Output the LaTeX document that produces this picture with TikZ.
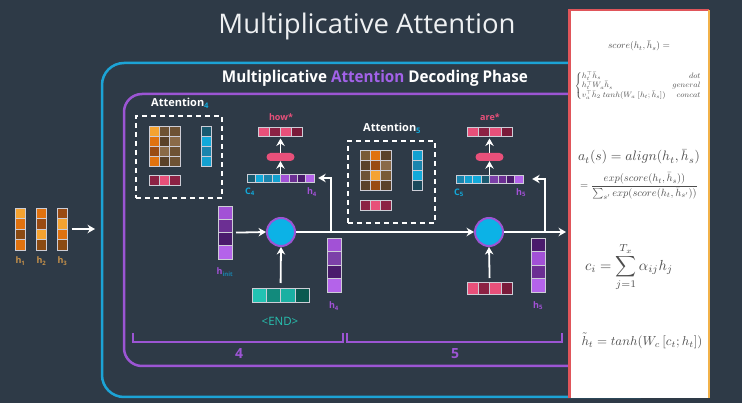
\documentclass[tikz,border=0pt]{standalone}
\usepackage[no-math]{fontspec}
\newfontfamily\osans{Open Sans}
\usepackage{graphicx}
\usetikzlibrary{arrows.meta}
\definecolor{bg}{HTML}{2E3A47}
\definecolor{blueframe}{HTML}{1CA3D6}
\definecolor{purpframe}{HTML}{9C55D4}
\definecolor{attnpurple}{HTML}{A262E8}
\definecolor{circfill}{HTML}{0CB2E6}
\definecolor{pinkA}{HTML}{E8507A}
\definecolor{pinkB}{HTML}{8C2244}
\definecolor{pinkC}{HTML}{7A1B3A}
\definecolor{or1}{HTML}{F5A331}
\definecolor{or2}{HTML}{E0720F}
\definecolor{or3}{HTML}{9A4B12}
\definecolor{or4}{HTML}{8A4A12}
\definecolor{br1}{HTML}{6E5234}
\definecolor{br2}{HTML}{5A4129}
\definecolor{br3}{HTML}{8A6A48}
\definecolor{br4}{HTML}{7A5A34}
\definecolor{cy1}{HTML}{1A5A70}
\definecolor{cy2}{HTML}{12A9DA}
\definecolor{cy3}{HTML}{1A84AD}
\definecolor{cy4}{HTML}{13A0D0}
\definecolor{cy5}{HTML}{1A4A5C}
\definecolor{pu1}{HTML}{A251D6}
\definecolor{pu2}{HTML}{6C2F93}
\definecolor{pu3}{HTML}{4A1B6C}
\definecolor{pu4}{HTML}{B463EA}
\definecolor{pu5}{HTML}{7C40A8}
\definecolor{te1}{HTML}{22C2B2}
\definecolor{te2}{HTML}{128A7C}
\definecolor{te3}{HTML}{1AB0A2}
\definecolor{te4}{HTML}{0B5A50}
\definecolor{cellln}{HTML}{CDCDD6}
\definecolor{tan}{HTML}{C8924A}
\definecolor{endteal}{HTML}{27C1B0}
\definecolor{panelred}{HTML}{E0555A}
\definecolor{panelorange}{HTML}{F2B24A}
\definecolor{formula}{HTML}{4D4D4D}
\definecolor{titlegray}{HTML}{EEF0F2}
% vertical vector: name, x, y, cell w, cell h, n, colours
\newcommand{\vcol}[7]{%
  \foreach \cc [count=\ii from 0] in {#7}{%
    \filldraw[fill=\cc,draw=cellln,line width=.8pt] (#2,{#3+\ii*#5}) rectangle ++(#4,#5);}%
  \node[inner sep=0pt,outer sep=0pt,minimum width=#4pt,minimum height=#6*#5pt,anchor=north west] (#1) at (#2,#3) {};%
}
% horizontal vector
\newcommand{\hrow}[7]{%
  \foreach \cc [count=\ii from 0] in {#7}{%
    \filldraw[fill=\cc,draw=cellln,line width=.8pt] ({#2+\ii*#4},#3) rectangle ++(#4,#5);}%
  \node[inner sep=0pt,outer sep=0pt,minimum width=#6*#4pt,minimum height=#5pt,anchor=north west] (#1) at (#2,#3) {};%
}
\begin{document}
\begin{tikzpicture}[x=1pt,y=-1pt,
  arr/.style={draw=white,line width=1.8pt,-{Stealth[length=7.5pt,width=8.5pt,inset=2.5pt]}},
  circ/.style={circle,minimum size=28pt,inner sep=0pt,fill=circfill,draw=purpframe,line width=2pt},
  pill/.style={rectangle,rounded corners=4pt,minimum width=28pt,minimum height=8pt,inner sep=0pt,fill=pinkA},
  dbox/.style={draw=white,line width=1.8pt,dash pattern=on 5pt off 4pt,inner sep=0pt,anchor=north west},
  attn/.style={font=\osans\bfseries\fontsize{11}{12}\selectfont,text=white,inner sep=0pt,anchor=west},
  small/.style={font=\osans\bfseries\fontsize{9}{10}\selectfont,inner sep=0pt},
  num/.style={font=\osans\bfseries\fontsize{14}{15}\selectfont,text=purpframe,inner sep=0pt},
  brk/.style={draw=purpframe,line width=2pt},
  fml/.style={text=formula,inner sep=0pt}]
\fill[bg] (0,0) rectangle (742,403);
\useasboundingbox (0,0) rectangle (742,403);

% titles
\node[anchor=base,inner sep=0pt,text=titlegray] (title) at (367,34)
  {\resizebox{297pt}{20.5pt}{\osans Multiplicative Attention}};

% frames
\draw[blueframe,line width=2.5pt,rounded corners=22pt] (102,63) rectangle (660,397);
\draw[purpframe,line width=2.5pt,rounded corners=18pt] (124,94) rectangle (660,366);
\node[anchor=base,inner sep=0pt,text=white] (subtitle) at (375,82.3)
  {\resizebox{306pt}{12.3pt}{\osans\bfseries Multiplicative {\color{attnpurple}Attention} Decoding Phase}};

% encoder states
\vcol{h1}{15}{208}{10.5}{10.5}{4}{or1,or2,or4,or2}
\vcol{h2}{36}{208}{10.5}{10.5}{4}{or2,or3,or1,or4}
\vcol{h3}{57}{208}{10.5}{10.5}{4}{or3,or1,or2,or4}
\node[small,text=tan] (h1l) at (20.5,261) {h\textsubscript{1}};
\node[small,text=tan] (h2l) at (41.5,261) {h\textsubscript{2}};
\node[small,text=tan] (h3l) at (62.5,261) {h\textsubscript{3}};
\coordinate (encin) at (95,229);
\draw[arr] ([xshift=4pt]h3.east) -- (encin);

% Attention 4
\node[attn] (at4) at (151,103) {Attention\textsubscript{\color{cy2}4}};
\node[dbox,minimum width=86pt,minimum height=82pt] (box4) at (135,115) {};
\vcol{m4a}{149}{126}{10.3}{10}{4}{or1,or2,or3,or2}
\vcol{m4b}{159.3}{126}{10.3}{10}{4}{br1,br2,br3,br2}
\vcol{m4c}{169.6}{126}{10.3}{10}{4}{br1,br3,br1,br1}
\vcol{e4}{201}{126}{10.5}{10}{4}{cy1,cy2,cy3,cy4}
\hrow{w4}{149}{175}{10.3}{10.5}{3}{pinkB,pinkA,pinkB}

% Attention 5
\node[attn] (at5) at (363,128) {Attention\textsubscript{\color{cy2}5}};
\node[dbox,minimum width=87pt,minimum height=82pt] (box5) at (347,140) {};
\vcol{m5a}{360}{150}{10.3}{10}{4}{br4,br2,br1,br2}
\vcol{m5b}{370.3}{150}{10.3}{10}{4}{or2,or3,or1,or3}
\vcol{m5c}{380.6}{150}{10.3}{10}{4}{br2,br3,br4,br2}
\vcol{e5}{412}{150}{10.5}{10}{4}{cy4,cy3,cy2,cy5}
\hrow{w5}{360}{200}{10.3}{10.5}{3}{pinkB,pinkA,pinkB}

% decoder step 4
\vcol{hinit}{218}{206}{14}{13.3}{4}{pu1,pu2,pu3,pu4}
\node[small,text=pu1] (hinitl) at (225,272) {h\textsubscript{\color{cy3}init}};
\node[circ] (c1) at (281,232) {};
\hrow{endv}{252}{288}{14.3}{14.5}{4}{te1,te2,te3,te4}
\node[inner sep=0pt,text=endteal,font=\osans\fontsize{11.5}{12}\selectfont] (endl) at (280,321) {\textless END\textgreater};
\hrow{cat4}{247}{174}{8.4}{8}{8}{cy1,cy2,cy3,cy4,pu1,pu2,pu3,pu4}
\node[small,text=cy2] (c4l) at (250,192) {C\textsubscript{4}};
\node[small,text=pu1] (h4tl) at (312,192) {h\textsubscript{4}};
\node[pill] (p4) at (280.5,157) {};
\hrow{how}{258}{127}{11}{9.5}{4}{pinkA,pinkB,pinkA,pinkC}
\node[small,text=pinkA] (howl) at (281,117) {how*};
\vcol{h4}{327}{238}{14}{13.5}{4}{pu1,pu5,pu3,pu4}
\node[small,text=pu1] (h4l) at (334,306) {h\textsubscript{4}};

% decoder step 5
\node[circ] (c2) at (489,232) {};
\hrow{pin5}{467}{282}{11.3}{12.5}{4}{pinkA,pinkB,pinkA,pinkC}
\hrow{cat5}{456}{175}{8.4}{8}{8}{cy3,cy4,cy2,cy1,pu5,pu2,pu3,pu4}
\node[small,text=cy2] (c5l) at (459,193) {C\textsubscript{5}};
\node[small,text=pu1] (h5tl) at (521,193) {h\textsubscript{5}};
\node[pill] (p5) at (489.5,157) {};
\hrow{are}{467}{127}{11.3}{9.5}{4}{pinkA,pinkB,pinkA,pinkC}
\node[small,text=pinkA] (arel) at (490,117) {are*};
\vcol{h5}{531}{238}{14}{13.5}{4}{pu3,pu1,pu2,pu4}
\node[small,text=pu1] (h5l) at (538,306) {h\textsubscript{5}};

% connectors
\coordinate (b1) at (331,232);
\coordinate (b2) at (545,232);
\coordinate (o2) at (566,232);
\draw[arr] ([xshift=4pt]hinit.east) -- (c1.west);
\draw[arr] ([yshift=5pt]endv.north) -- (c1.south);
\draw[arr] (c1.east) -- (c2.west);
\draw[arr] (b1) |- ([xshift=4pt]cat4.east);
\draw[arr] (cat4.north -| p4) -- (p4.south);
\draw[arr] (p4.north) -- ([yshift=-2pt]how.south -| p4);
\draw[arr] (c2.east) -- (o2);
\draw[arr] (b2) |- ([xshift=9pt]cat5.east);
\draw[arr] (cat5.north -| p5) -- (p5.south);
\draw[arr] (p5.north) -- ([yshift=-2pt]are.south -| p5);
\draw[arr] ([yshift=4pt]pin5.north) -- (c2.south);

% brackets
\draw[brk] (133,333) -- (133,342) -- (343,342) -- (343,333);
\draw[brk] (347,333) -- (347,342) -- (562,342) -- (562,333);
\node[num] (n4) at (239,354) {4};
\node[num] (n5) at (455,354) {5};

% formula panel
\node[fill=white,inner sep=0pt,minimum width=139pt,minimum height=388pt,anchor=north west] (panel) at (569.5,10) {};
\draw[panelred,line width=2.5pt] (panel.south west) -- (panel.north west) -- (panel.north east);
\draw[panelorange,line width=2.5pt] (panel.north east) -- (panel.south east);
\node[fml] (fscore) at (639,46) {\resizebox{62pt}{!}{$score(h_t,\bar{h}_s) =$}};
\node[fml] (fcases) at (638,86) {\resizebox*{127pt}{28pt}{$\left\{\begin{array}{@{}l@{\hspace{8pt}}r@{}}
  h_t^{\top}\bar{h}_s & dot\\
  h_t^{\top}W_a\bar{h}_s & general\\
  v_a^{\top}\bar{h}_2\; tanh(W_a\;[h_t;\bar{h}_s]) & concat
  \end{array}\right.$}};
\node[fml] (falign) at (639,157) {\resizebox{122pt}{!}{$a_t(s) = align(h_t,\bar{h}_s)$}};
\node[fml] (fsoft) at (639,186) {\resizebox{118pt}{!}{$\displaystyle = \frac{exp(score(h_t,\bar{h}_s))}{\sum_{s'} exp(score(h_t,\bar{h}_{s'}))}$}};
\node[fml] (fctx) at (629,267) {\resizebox{88pt}{!}{$\displaystyle c_i = \sum_{j=1}^{T_x}\alpha_{ij}h_j$}};
\node[fml] (fhtil) at (642,341) {\resizebox{121pt}{!}{$\tilde{h}_t = tanh(W_c\,[c_t;h_t])$}};
\end{tikzpicture}
\end{document}
